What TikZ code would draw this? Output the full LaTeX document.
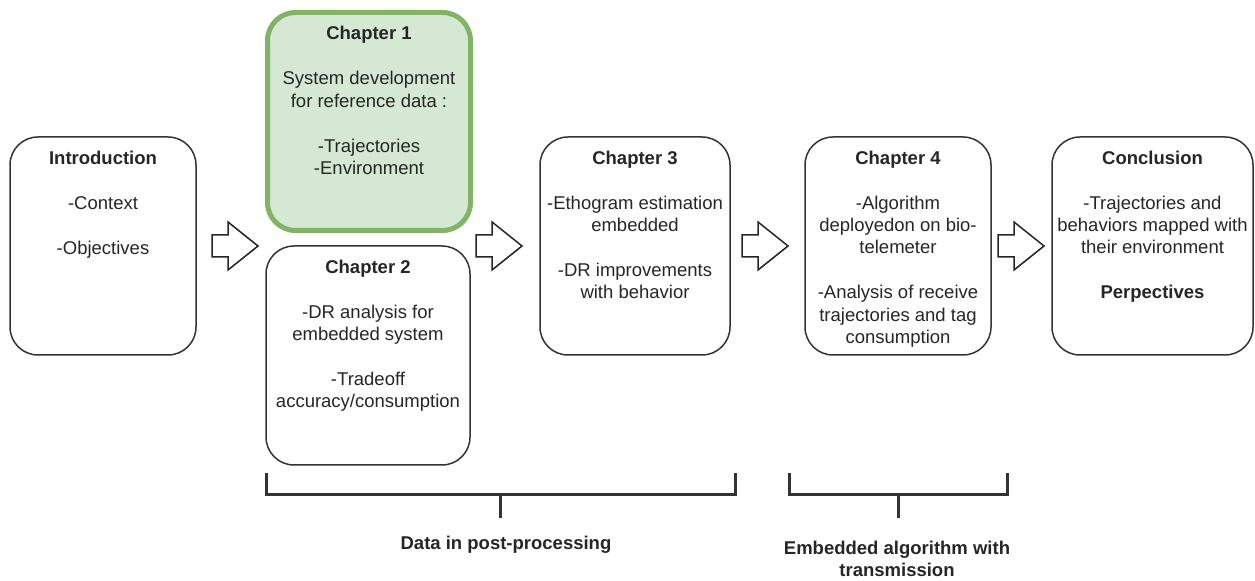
\documentclass[tikz,border=0pt]{standalone}
\usepackage{fontspec}
\setmainfont{Liberation Sans}
\usepackage{tikz}
\usetikzlibrary{positioning,calc}

\definecolor{chgreen}{HTML}{82B366}
\definecolor{chfill}{HTML}{D5E8D4}

\tikzset{
    chapbox/.style={draw=black!80, line width=0.75pt, rounded corners=14pt,
        minimum width=93pt, minimum height=109pt, inner sep=0pt},
    greenbox/.style={chapbox, draw=chgreen, fill=chfill, line width=2.5pt},
    boxtext/.style={anchor=north, align=center, inner sep=0pt, text=black!85,
        font=\fontsize{9.25}{11.2}\selectfont},
    bracket/.style={line width=1.5pt, black!80},
    blockarrow/.pic={
        \draw[line width=0.75pt, black!85, line join=miter]
            (0,-11) -- (16,-11) -- (16,-24) -- (46,0) -- (16,24) -- (16,11) -- (0,11) -- cycle;
    }
}

\begin{document}
\begin{tikzpicture}[x=0.5pt, y=-0.5pt]
    \useasboundingbox (0,0) rectangle (1255,581);

    % Boxes
    \node[chapbox] (intro) at (103,246) {};
    \node[greenbox, minimum width=101.5pt] (ch1) at (369,121.5) {};
    \node[chapbox, minimum width=102pt, minimum height=109.5pt] (ch2) at (368,355.5) {};
    \node[chapbox, minimum width=95pt] (ch3) at (635,246) {};
    \node[chapbox] (ch4) at (898,246) {};
    \node[chapbox, minimum width=100.5pt] (concl) at (1152.5,246) {};

    % Texts inside the boxes
    \node[boxtext] (introtxt) at ([yshift=-7pt]intro.north)
        {\textbf{Introduction}\\[11.3pt] -Context\\[11.3pt] -Objectives};
    \node[boxtext] (ch1txt) at ([yshift=-8pt]ch1.north)
        {\textbf{Chapter 1}\\[11.3pt] System development\\ for reference data :\\[11.3pt]
         -Trajectories\\ -Environment};
    \node[boxtext] (ch2txt) at ([yshift=-7pt]ch2.north)
        {\textbf{Chapter 2}\\[11.3pt] -DR analysis for\\ embedded system\\[11.3pt]
         -Tradeoff\\ accuracy/consumption};
    \node[boxtext] (ch3txt) at ([yshift=-7pt]ch3.north)
        {\textbf{Chapter 3}\\[11.3pt] -Ethogram estimation\\ embedded\\[11.3pt]
         -DR improvements\\ with behavior};
    \node[boxtext] (ch4txt) at ([yshift=-7pt]ch4.north)
        {\textbf{Chapter 4}\\[11.3pt] -Algorithm\\ deployedon on bio-\\ telemeter\\[11.3pt]
         -Analysis of receive\\ trajectories and tag\\ consumption};
    \node[boxtext] (concltxt) at ([yshift=-7pt]concl.north)
        {\textbf{Conclusion}\\[11.3pt] -Trajectories and\\ behaviors mapped with\\
         their environment\\[11.3pt] \textbf{Perpectives}};

    % Block arrows between the boxes
    \pic (arr1) at (212,246) {blockarrow};
    \pic (arr2) at (476,246) {blockarrow};
    \pic (arr3) at (742,246) {blockarrow};
    \pic (arr4) at (998,246) {blockarrow};

    % Brackets
    \draw[bracket] (266,473) -- (266,495) -- (735,495) -- (735,473);
    \draw[bracket] (500,495) -- (500,518);
    \draw[bracket] (789,473) -- (789,495) -- (1007,495) -- (1007,473);
    \draw[bracket] (898,495) -- (898,518);

    \node[boxtext, font=\fontsize{9.25}{11}\selectfont\bfseries] (post) at (506,536)
        {Data in post-processing};
    \node[boxtext, font=\fontsize{9.25}{11}\selectfont\bfseries] (embed) at (897,541)
        {Embedded algorithm with\\ transmission};
\end{tikzpicture}
\end{document}
